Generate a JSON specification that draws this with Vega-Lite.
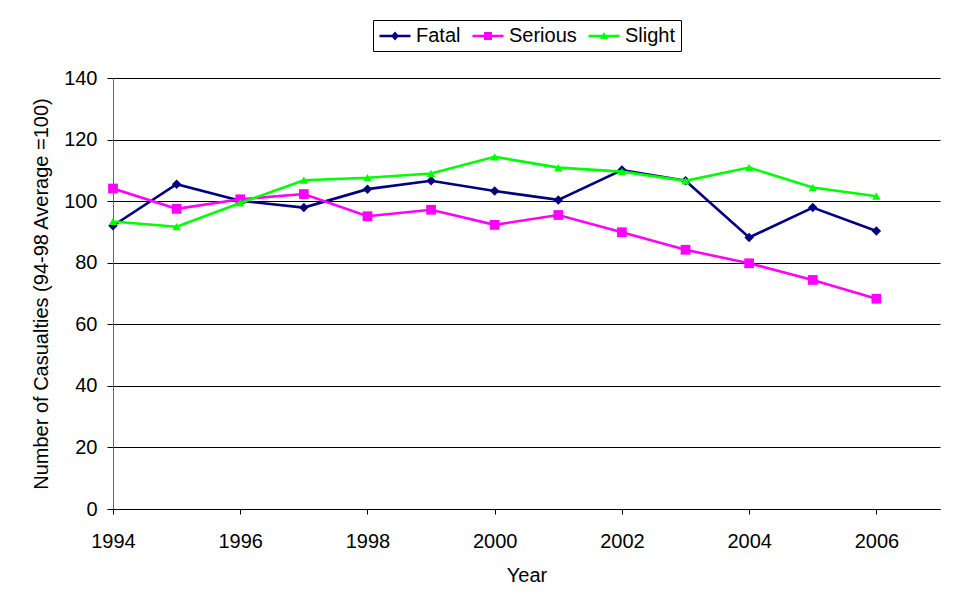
{
  "$schema": "https://vega.github.io/schema/vega-lite/v6.json",
  "autosize": {"type": "none"},
  "width": 827,
  "height": 431,
  "padding": {"left": 113, "top": 78, "right": 33, "bottom": 93},
  "background": "white",
  "config": {
    "font": "Liberation Sans",
    "view": {"stroke": null},
    "axis": {
      "labelFont": "Liberation Sans",
      "titleFont": "Liberation Sans",
      "labelFontSize": 20,
      "titleFontSize": 20,
      "titleFontWeight": "normal",
      "labelColor": "black",
      "titleColor": "black",
      "tickColor": "black",
      "domainColor": "black",
      "gridColor": "black",
      "gridOpacity": 1,
      "gridWidth": 1
    }
  },
  "data": {
    "values": [
      {"Year": 1994, "Series": "Fatal", "Value": 92.0},
      {"Year": 1995, "Series": "Fatal", "Value": 105.5},
      {"Year": 1996, "Series": "Fatal", "Value": 100.1},
      {"Year": 1997, "Series": "Fatal", "Value": 97.9},
      {"Year": 1998, "Series": "Fatal", "Value": 103.9},
      {"Year": 1999, "Series": "Fatal", "Value": 106.6},
      {"Year": 2000, "Series": "Fatal", "Value": 103.3},
      {"Year": 2001, "Series": "Fatal", "Value": 100.4},
      {"Year": 2002, "Series": "Fatal", "Value": 110.1},
      {"Year": 2003, "Series": "Fatal", "Value": 106.6},
      {"Year": 2004, "Series": "Fatal", "Value": 88.2},
      {"Year": 2005, "Series": "Fatal", "Value": 97.9},
      {"Year": 2006, "Series": "Fatal", "Value": 90.3},
      {"Year": 1994, "Series": "Serious", "Value": 104.1},
      {"Year": 1995, "Series": "Serious", "Value": 97.5},
      {"Year": 1996, "Series": "Serious", "Value": 100.6},
      {"Year": 1997, "Series": "Serious", "Value": 102.3},
      {"Year": 1998, "Series": "Serious", "Value": 95.1},
      {"Year": 1999, "Series": "Serious", "Value": 97.2},
      {"Year": 2000, "Series": "Serious", "Value": 92.3},
      {"Year": 2001, "Series": "Serious", "Value": 95.5},
      {"Year": 2002, "Series": "Serious", "Value": 89.9},
      {"Year": 2003, "Series": "Serious", "Value": 84.2},
      {"Year": 2004, "Series": "Serious", "Value": 79.8},
      {"Year": 2005, "Series": "Serious", "Value": 74.4},
      {"Year": 2006, "Series": "Serious", "Value": 68.3},
      {"Year": 1994, "Series": "Slight", "Value": 93.4},
      {"Year": 1995, "Series": "Slight", "Value": 91.7},
      {"Year": 1996, "Series": "Slight", "Value": 99.4},
      {"Year": 1997, "Series": "Slight", "Value": 106.8},
      {"Year": 1998, "Series": "Slight", "Value": 107.6},
      {"Year": 1999, "Series": "Slight", "Value": 109.0},
      {"Year": 2000, "Series": "Slight", "Value": 114.4},
      {"Year": 2001, "Series": "Slight", "Value": 110.9},
      {"Year": 2002, "Series": "Slight", "Value": 109.6},
      {"Year": 2003, "Series": "Slight", "Value": 106.6},
      {"Year": 2004, "Series": "Slight", "Value": 110.9},
      {"Year": 2005, "Series": "Slight", "Value": 104.4},
      {"Year": 2006, "Series": "Slight", "Value": 101.6}
    ]
  },
  "encoding": {
    "x": {
      "field": "Year",
      "type": "quantitative",
      "scale": {"domain": [1994, 2007], "nice": false, "zero": false},
      "axis": {
        "title": "Year",
        "values": [1994, 1996, 1998, 2000, 2002, 2004, 2006],
        "format": "d",
        "grid": false,
        "tickSize": 5,
        "labelFlush": false,
        "labelPadding": 17,
        "titlePadding": 14
      }
    },
    "y": {
      "field": "Value",
      "type": "quantitative",
      "scale": {"domain": [0, 140], "nice": false},
      "axis": {
        "title": "Number of Casualties (94-98 Average =100)",
        "values": [0, 20, 40, 60, 80, 100, 120, 140],
        "grid": true,
        "tickSize": 6,
        "labelPadding": 10,
        "titlePadding": 12,
        "domainColor": "#666"
      }
    }
  },
  "layer": [
    {
      "description": "legend key only: line segment with the series marker; no rows are drawn here",
      "transform": [{"filter": "datum.Value < 0"}],
      "mark": {"type": "point", "filled": true, "opacity": 1, "size": 400},
      "encoding": {
        "color": {
          "field": "Series",
          "type": "nominal",
          "scale": {"domain": ["Fatal", "Serious", "Slight"], "range": ["#000080", "#FF00FF", "#00FF00"]},
          "legend": {
            "title": null,
            "orient": "none",
            "legendX": 260,
            "legendY": -58,
            "direction": "horizontal",
            "strokeColor": "black",
            "fillColor": "white",
            "padding": 5,
            "columnPadding": 8,
            "labelFont": "Liberation Sans",
            "labelFontSize": 20,
            "labelColor": "black",
            "labelOffset": 10,
            "symbolOffset": 6,
            "symbolSize": 400,
            "symbolOpacity": 1
          }
        },
        "shape": {
          "field": "Series",
          "type": "nominal",
          "scale": {
            "domain": ["Fatal", "Serious", "Slight"],
            "range": [
              "M-1.55,-0.12H1.55V0.12H-1.55ZM-0.4,0L0,-0.45L0.4,0L0,0.45Z",
              "M-1.55,-0.12H1.55V0.12H-1.55ZM-0.4,-0.4H0.4V0.4H-0.4Z",
              "M-1.55,-0.12H1.55V0.12H-1.55ZM0,-0.4L0.4,0.3H-0.4Z"
            ]
          }
        }
      }
    },
    {
      "transform": [{"filter": "datum.Series === 'Fatal'"}],
      "mark": {"type": "line", "strokeWidth": 2.6, "color": "#000080",
               "point": {"filled": true, "shape": "diamond", "size": 90, "color": "#000080"}}
    },
    {
      "transform": [{"filter": "datum.Series === 'Serious'"}],
      "mark": {"type": "line", "strokeWidth": 2.6, "color": "#FF00FF",
               "point": {"filled": true, "shape": "square", "size": 95, "color": "#FF00FF"}}
    },
    {
      "transform": [{"filter": "datum.Series === 'Slight'"}],
      "mark": {"type": "line", "strokeWidth": 2.6, "color": "#00FF00",
               "point": {"filled": true, "shape": "triangle-up", "size": 70, "color": "#00FF00"}}
    }
  ]
}
